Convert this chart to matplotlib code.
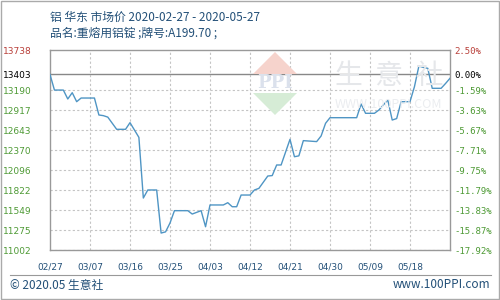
import matplotlib
matplotlib.use("Agg")
import matplotlib.pyplot as plt
from matplotlib.patches import Polygon, Rectangle
from matplotlib.lines import Line2D
import pandas as pd

plt.rcParams['font.family'] = ['Noto Sans CJK SC', 'DejaVu Sans']

# ---- data ----
dates = ["2020-02-27", "2020-02-28", "2020-03-01", "2020-03-02", "2020-03-03",
         "2020-03-04", "2020-03-05", "2020-03-08", "2020-03-09", "2020-03-10",
         "2020-03-11", "2020-03-13", "2020-03-15", "2020-03-16", "2020-03-18",
         "2020-03-19", "2020-03-20", "2020-03-22", "2020-03-23", "2020-03-24",
         "2020-03-25", "2020-03-26", "2020-03-29", "2020-03-30", "2020-04-01",
         "2020-04-02", "2020-04-03", "2020-04-06", "2020-04-07", "2020-04-08",
         "2020-04-09", "2020-04-10", "2020-04-12", "2020-04-13", "2020-04-14",
         "2020-04-16", "2020-04-17", "2020-04-18", "2020-04-19", "2020-04-21",
         "2020-04-22", "2020-04-23", "2020-04-24", "2020-04-27", "2020-04-28",
         "2020-04-29", "2020-04-30", "2020-05-06", "2020-05-07", "2020-05-08",
         "2020-05-10", "2020-05-11", "2020-05-13", "2020-05-14", "2020-05-15",
         "2020-05-16", "2020-05-18", "2020-05-19", "2020-05-20", "2020-05-21",
         "2020-05-22", "2020-05-23", "2020-05-25", "2020-05-26", "2020-05-27"]
prices = [13403, 13190, 13190, 13068, 13154,
          13031, 13081, 13081, 12849, 12840,
          12820, 12653, 12653, 12744, 12543,
          11713, 11823, 11823, 11234, 11250,
          11371, 11540, 11540, 11494, 11540,
          11320, 11618, 11618, 11649, 11594,
          11594, 11754, 11754, 11823, 11845,
          12014, 12020, 12165, 12165, 12516,
          12278, 12290, 12498, 12485, 12562,
          12735, 12812, 12812, 12999, 12872,
          12872, 12917, 13054, 12780, 12800,
          13031, 13031, 13236, 13519, 13500,
          13487, 13214, 13214, 13280, 13351]

left_ticks = [11002, 11275, 11549, 11822, 12096, 12370, 12643, 12917, 13190, 13403, 13738]
left_labels = ["11002", "11275", "11549", "11822", "12096", "12370", "12643", "12917", "13190", "13403", "13738"]
right_labels = ["-17.92%", "-15.87%", "-13.83%", "-11.79%", "-9.75%", "-7.71%", "-5.67%", "-3.63%", "-1.59%", "0.00%", "2.50%"]
x_tick_labels = ["02/27", "03/07", "03/16", "03/25", "04/03", "04/12", "04/21", "04/30", "05/09", "05/18"]

title1 = "铝 华东 市场价 2020-02-27 - 2020-05-27"
title2 = "品名:重熔用铝锭 ;牌号:A199.70 ;"
footer_left = "© 2020.05 生意社"
footer_right = "www.100PPI.com"

# ---- styles ----
LINE_C = "#4f95c4"
GREEN = "#4e9a35"
RED = "#b9403a"
TXT = "#235078"
GRID = "#c4c4c4"
FRAME = "#999999"

x = pd.to_datetime(dates)
start = pd.Timestamp("2020-02-27")
end = pd.Timestamp("2020-05-27")
xt = [start + pd.Timedelta(days=9 * i) for i in range(len(x_tick_labels))]

fig = plt.figure(figsize=(5, 3), dpi=100)
ax = fig.add_axes([0.1, 1 - 250 / 300, 0.8, 200 / 300])

ax.set_xlim(start, end)
ax.set_ylim(left_ticks[0], left_ticks[-1])

# watermark
fig.patches.append(Polygon([[275 / 500, 1 - 52 / 300], [297 / 500, 1 - 74 / 300], [253 / 500, 1 - 74 / 300]],
                           closed=True, transform=fig.transFigure, facecolor="#f6d3cc", edgecolor="none", zorder=0.5))
fig.patches.append(Polygon([[275 / 500, 1 - 115 / 300], [297 / 500, 1 - 93 / 300], [253 / 500, 1 - 93 / 300]],
                           closed=True, transform=fig.transFigure, facecolor="#d6ecd6", edgecolor="none", zorder=0.5))
fig.text(275 / 500, 1 - 83.5 / 300, "PPI", ha="center", va="center", fontsize=13, color="#dbe1ec",
         family="DejaVu Serif", fontweight="bold", zorder=0.6)
fig.text(389 / 500, 1 - 76 / 300, "生  意  社", ha="center", va="center", fontsize=20, color="#e5e7ea", zorder=0.6)
fig.text(388 / 500, 1 - 105 / 300, "WWW.100PPI.COM", ha="center", va="center", fontsize=9, color="#ebedf0", zorder=0.6)
ax.set_facecolor("none")

# grid
for t in left_ticks[:-1]:
    if t == 13403:
        ax.axhline(t, color="#888888", lw=1.0, zorder=1)
    else:
        ax.axhline(t, color=GRID, lw=0.8, ls=(0, (2, 2)), zorder=1)
for t in xt[1:]:
    ax.axvline(t, color=GRID, lw=0.8, ls=(0, (2, 2)), zorder=1)

ax.plot(x, prices, color=LINE_C, lw=1.0, zorder=3)

for s in ax.spines.values():
    s.set_color(FRAME)
    s.set_linewidth(1.0)

ax.set_yticks(left_ticks)
ax.set_yticklabels(left_labels, family="DejaVu Sans", fontsize=6.5)
ax.tick_params(axis="y", length=0, pad=13)
for lbl, t in zip(ax.get_yticklabels(), left_ticks):
    lbl.set_color(RED if t == 13738 else ("black" if t == 13403 else GREEN))

ax.set_xticks(xt)
ax.set_xticklabels(x_tick_labels, family="DejaVu Sans", fontsize=6.5, color=TXT)
ax.tick_params(axis="x", length=0, pad=9)

ax2 = ax.twinx()
ax2.set_ylim(ax.get_ylim())
ax2.set_yticks(left_ticks)
ax2.set_yticklabels(right_labels, family="DejaVu Sans Mono", fontsize=6.5)
ax2.tick_params(axis="y", length=0, pad=3)
for lbl, t in zip(ax2.get_yticklabels(), left_ticks):
    lbl.set_color(RED if t == 13738 else ("black" if t == 13403 else GREEN))
for s in ax2.spines.values():
    s.set_visible(False)

# titles
fig.text(50 / 500, 1 - 17 / 300, title1, ha="left", va="center", fontsize=8.5, color=TXT)
fig.text(50 / 500, 1 - 33 / 300, title2, ha="left", va="center", fontsize=8.5, color=TXT)

# footer
fig.add_artist(Line2D([10 / 500, 491 / 500], [1 - 275 / 300, 1 - 275 / 300], color=FRAME, lw=0.8,
                      transform=fig.transFigure))
fig.text(10 / 500, 1 - 285 / 300, footer_left, ha="left", va="center", fontsize=8.5, color=TXT)
fig.text(490 / 500, 1 - 285 / 300, footer_right, ha="right", va="center", fontsize=8.5, color=TXT)

# outer border
fig.patches.append(Rectangle((0.001, 0.002), 0.997, 0.996, transform=fig.transFigure,
                             fill=False, edgecolor="#aaaaaa", lw=1.0))

fig.savefig("out.png", dpi=100)
